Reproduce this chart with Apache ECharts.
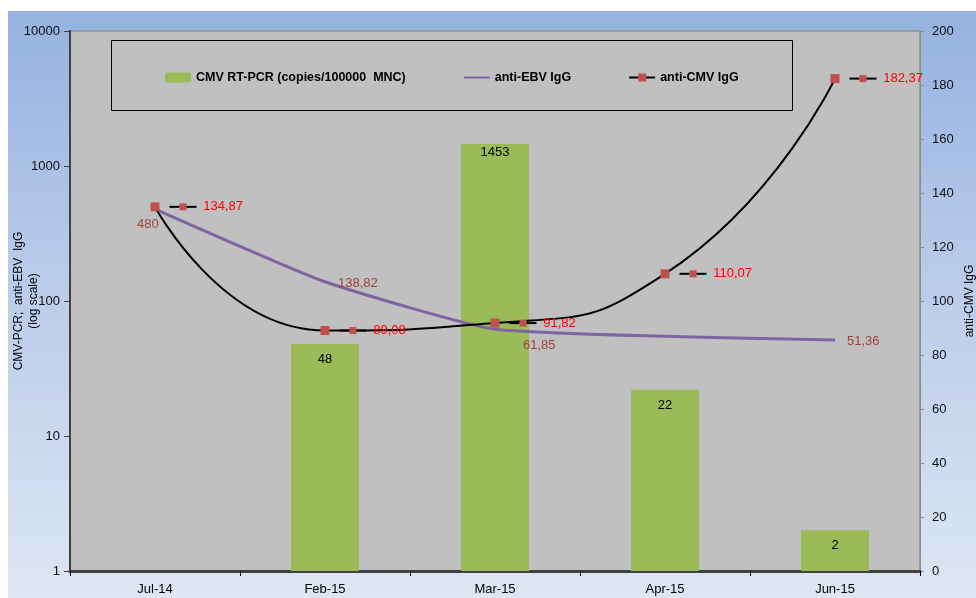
<!DOCTYPE html>
<html>
<head>
<meta charset="utf-8">
<script src="https://cdn.jsdelivr.net/npm/echarts@6/dist/echarts.min.js"></script>
<style>
  html, body { margin: 0; padding: 0; background: #ffffff; }
  #chart {
    position: absolute; left: 8px; top: 11px; width: 968px; height: 587px;
    background: linear-gradient(to bottom, #95b2e0 0%, #b9cbea 45%, #dde6f3 100%);
  }
</style>
</head>
<body>
<div id="chart"></div>
<script>
const categories = ["Jul-14", "Feb-15", "Mar-15", "Apr-15", "Jun-15"];
const pcrCopies = [null, 48, 1453, 22, 2];
const ebvIgG = [480, 138.82, 61.85, null, 51.36];
const cmvIgG = [134.87, 89.08, 91.82, 110.07, 182.37];

// label placement tweaks (offsets from the point)
const ebvLabelPos = [[-17, 10], [14, -4], [29, 11], "right", [13, -4]];
const barLabelGap = [9, 9, 2, 9, 9];

const fmt = (v) => v.toFixed(2).replace(".", ",");
const font = "'Liberation Sans', Arial, sans-serif";

const chart = echarts.init(document.getElementById("chart"));

chart.setOption({
  animation: false,
  textStyle: { fontFamily: font },
  grid: {
    left: 62, right: 56, top: 20, bottom: 27,
    containLabel: false, outerBoundsMode: "none",
    show: true, backgroundColor: "#c0c0c0", borderColor: "#7f7f7f", borderWidth: 1,
  },
  graphic: [{
    type: "rect", left: 101, top: 27, z: 5,
    shape: { width: 681, height: 70 },
    style: { fill: null, stroke: "#000", lineWidth: 1 },
  }],
  legend: {
    left: 152, top: 55, itemGap: 57, itemWidth: 26, itemHeight: 10,
    textStyle: { fontSize: 12.5, fontWeight: "bold", color: "#000" },
    data: ["CMV RT-PCR (copies/100000  MNC)", "anti-EBV IgG", "anti-CMV IgG"],
  },
  xAxis: {
    type: "category", data: categories,
    axisLine: { lineStyle: { color: "#404040", width: 3 } },
    axisTick: { show: true, inside: false, length: 5, lineStyle: { color: "#000", width: 1 } },
    axisLabel: { color: "#000", fontSize: 13, fontFamily: "'Liberation Sans Narrow', 'Arial Narrow', sans-serif", margin: 12 },
  },
  yAxis: [{
    type: "log", min: 1, max: 10000, logBase: 10,
    name: "CMV-PCR;  anti-EBV  IgG\n(log scale)",
    nameLocation: "middle", nameGap: 29, nameRotate: 90, nameMoveOverlap: false,
    nameTextStyle: { fontSize: 12, color: "#000", lineHeight: 15 },
    axisLine: { show: true, lineStyle: { color: "#404040", width: 2 } },
    axisTick: { show: true, length: 6, lineStyle: { color: "#404040" } },
    axisLabel: { color: "#111", fontSize: 13, margin: 10, formatter: (v) => String(v) },
    splitLine: { show: false },
    minorTick: { show: false },
  }, {
    type: "value", min: 0, max: 200, interval: 20,
    name: "anti-CMV IgG",
    nameLocation: "middle", nameGap: 44, nameRotate: 90, nameMoveOverlap: false,
    nameTextStyle: { fontSize: 12, color: "#000" },
    axisLine: { show: true, lineStyle: { color: "#8c8c8c", width: 1 } },
    axisTick: { show: true, length: 4, lineStyle: { color: "#8c8c8c" } },
    axisLabel: { color: "#111", fontSize: 13, margin: 12 },
    splitLine: { show: false },
  }],
  series: [{
    name: "CMV RT-PCR (copies/100000  MNC)",
    type: "bar", yAxisIndex: 0, barWidth: 68,
    data: pcrCopies.map((v, i) => ({ value: v, label: { distance: barLabelGap[i] } })),
    itemStyle: { color: "#9bbb59" },
    label: {
      show: true, position: "insideTop",
      color: "#000", fontSize: 13,
    },
    z: 2,
  }, {
    name: "anti-EBV IgG",
    type: "line", yAxisIndex: 0, connectNulls: true,
    smooth: 0.15, symbol: "circle", symbolSize: 2,
    data: ebvIgG.map((v, i) => ({
      value: v,
      label: { show: v !== null, position: ebvLabelPos[i] },
    })),
    lineStyle: { color: "#8064a2", width: 3 },
    itemStyle: { color: "rgba(0,0,0,0)" },
    label: {
      show: true, color: "#a0423e", fontSize: 13, distance: 6,
      formatter: (p) => (p.value === 480 ? "480" : fmt(p.value)),
    },
    z: 3,
  }, {
    name: "anti-CMV IgG",
    type: "line", yAxisIndex: 1, smooth: 0.55,
    data: cmvIgG,
    symbol: "rect", symbolSize: 9,
    lineStyle: { color: "#000", width: 2 },
    itemStyle: { color: "#c0504d" },
    label: {
      show: true, position: "right", distance: 10,
      formatter: (p) => "{l|}{s|}{l|}  {v|" + fmt(p.value) + "}",
      rich: {
        l: { width: 10, height: 2, backgroundColor: "#000" },
        s: { width: 7, height: 7, backgroundColor: "#c0504d" },
        v: { color: "#ff0000", fontSize: 13 },
      },
    },
    z: 4,
  }],
});
</script>
</body>
</html>
